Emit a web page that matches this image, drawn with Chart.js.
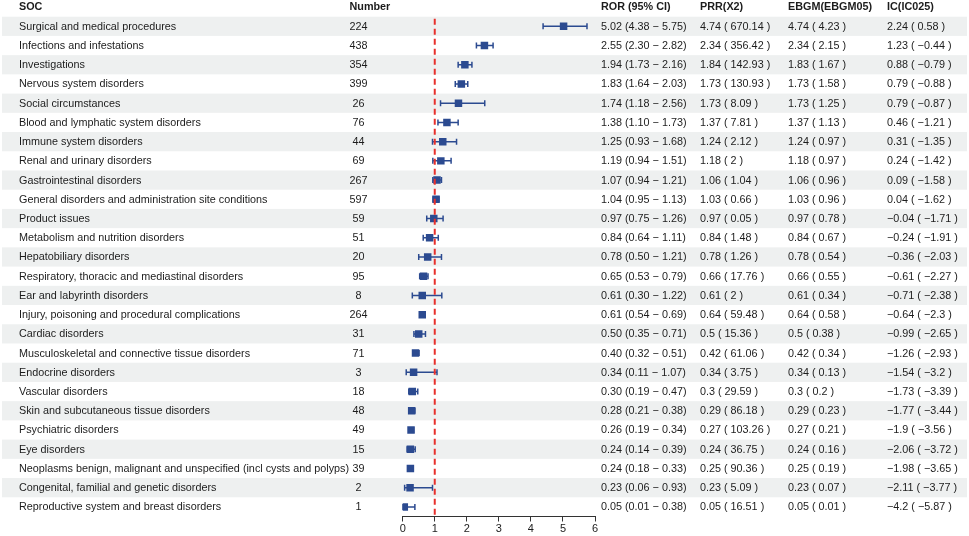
<!DOCTYPE html>
<html><head><meta charset="utf-8">
<script src="https://cdn.jsdelivr.net/npm/chart.js@4/dist/chart.umd.min.js"></script>
<style>html,body{margin:0;padding:0;background:#fff;overflow:hidden}</style>
</head><body>
<canvas id="c" width="969" height="536"></canvas>
<script>
const soc = [
  "Surgical and medical procedures","Infections and infestations","Investigations","Nervous system disorders",
  "Social circumstances","Blood and lymphatic system disorders","Immune system disorders","Renal and urinary disorders",
  "Gastrointestinal disorders","General disorders and administration site conditions","Product issues",
  "Metabolism and nutrition disorders","Hepatobiliary disorders","Respiratory, thoracic and mediastinal disorders",
  "Ear and labyrinth disorders","Injury, poisoning and procedural complications","Cardiac disorders",
  "Musculoskeletal and connective tissue disorders","Endocrine disorders","Vascular disorders",
  "Skin and subcutaneous tissue disorders","Psychiatric disorders","Eye disorders",
  "Neoplasms benign, malignant and unspecified (incl cysts and polyps)","Congenital, familial and genetic disorders",
  "Reproductive system and breast disorders"
];
const counts = [224,438,354,399,26,76,44,69,267,597,59,51,20,95,8,264,31,71,3,18,48,49,15,39,2,1];
const ror   = [5.02,2.55,1.94,1.83,1.74,1.38,1.25,1.19,1.07,1.04,0.97,0.84,0.78,0.65,0.61,0.61,0.50,0.40,0.34,0.30,0.28,0.26,0.24,0.24,0.23,0.05];
const rorLo = [4.38,2.30,1.73,1.64,1.18,1.10,0.93,0.94,0.94,0.95,0.75,0.64,0.50,0.53,0.30,0.54,0.35,0.32,0.11,0.19,0.21,0.19,0.14,0.18,0.06,0.01];
const rorHi = [5.75,2.82,2.16,2.03,2.56,1.73,1.68,1.51,1.21,1.13,1.26,1.11,1.21,0.79,1.22,0.69,0.71,0.51,1.07,0.47,0.38,0.34,0.39,0.33,0.93,0.38];
const prr   = [4.74,2.34,1.84,1.73,1.73,1.37,1.24,1.18,1.06,1.03,0.97,0.84,0.78,0.66,0.61,0.64,0.5,0.42,0.34,0.3,0.29,0.27,0.24,0.25,0.23,0.05];
const prrChi= [670.14,356.42,142.93,130.93,8.09,7.81,2.12,2,1.04,0.66,0.05,1.48,1.26,17.76,2,59.48,15.36,61.06,3.75,29.59,86.18,103.26,36.75,90.36,5.09,16.51];
const ebgm  = [4.74,2.34,1.83,1.73,1.73,1.37,1.24,1.18,1.06,1.03,0.97,0.84,0.78,0.66,0.61,0.64,0.5,0.42,0.34,0.3,0.29,0.27,0.24,0.25,0.23,0.05];
const ebgm05= [4.23,2.15,1.67,1.58,1.25,1.13,0.97,0.97,0.96,0.96,0.78,0.67,0.54,0.55,0.34,0.58,0.38,0.34,0.13,0.2,0.23,0.21,0.16,0.19,0.07,0.01];
const ic    = [2.24,1.23,0.88,0.79,0.79,0.46,0.31,0.24,0.09,0.04,-0.04,-0.24,-0.36,-0.61,-0.71,-0.64,-0.99,-1.26,-1.54,-1.73,-1.77,-1.9,-2.06,-1.98,-2.11,-4.2];
const ic025 = [0.58,-0.44,-0.79,-0.88,-0.87,-1.21,-1.35,-1.42,-1.58,-1.62,-1.71,-1.91,-2.03,-2.27,-2.38,-2.3,-2.65,-2.93,-3.2,-3.39,-3.44,-3.56,-3.72,-3.65,-3.77,-5.87];
const xTicks = [0,1,2,3,4,5,6];
const headers = ["SOC","Number","ROR (95% CI)","PRR(X2)","EBGM(EBGM05)","IC(IC025)"];
const refLine = 1;

const fmt = v => String(v).replace('-', '\u2212');
const FONT = '"Liberation Sans", Arial, sans-serif';
const TXT = '#1c1c1c';
const BLUE = '#2b4a90';

const bandPlugin = {
  id: 'bands',
  beforeDraw(chart) {
    const ctx = chart.ctx, y = chart.scales.y;
    ctx.save();
    ctx.fillStyle = '#fff';
    ctx.fillRect(0, 0, chart.width, chart.height);
    ctx.fillStyle = '#eef0f0';
    for (let i = 0; i < soc.length; i += 2) {
      const t = y.getPixelForValue(i - 0.5), b = y.getPixelForValue(i + 0.5);
      ctx.fillRect(2, Math.min(t, b), 965, Math.abs(b - t));
    }
    ctx.restore();
  }
};

const errPlugin = {
  id: 'errbars',
  beforeDatasetsDraw(chart) {
    const ctx = chart.ctx, x = chart.scales.x, y = chart.scales.y;
    ctx.save();
    ctx.strokeStyle = BLUE;
    ctx.lineWidth = 1.5;
    for (let i = 0; i < soc.length; i++) {
      const py = y.getPixelForValue(i);
      const x1 = x.getPixelForValue(rorLo[i]), x2 = x.getPixelForValue(rorHi[i]);
      ctx.beginPath();
      ctx.moveTo(x1, py); ctx.lineTo(x2, py);
      ctx.moveTo(x1, py - 3); ctx.lineTo(x1, py + 3);
      ctx.moveTo(x2, py - 3); ctx.lineTo(x2, py + 3);
      ctx.stroke();
    }
    ctx.restore();
  },
  afterDatasetsDraw(chart) {
    const ctx = chart.ctx, x = chart.scales.x, a = chart.chartArea;
    ctx.save();
    ctx.strokeStyle = '#e8302c';
    ctx.lineWidth = 2;
    ctx.setLineDash([6, 4]);
    const px = x.getPixelForValue(refLine);
    ctx.beginPath();
    ctx.moveTo(px, a.top + 2); ctx.lineTo(px, a.bottom);
    ctx.stroke();
    ctx.restore();
  }
};

const tablePlugin = {
  id: 'table',
  afterDraw(chart) {
    const ctx = chart.ctx, y = chart.scales.y;
    const cols = [19, 349.5, 601, 700, 788, 887];
    ctx.save();
    ctx.textBaseline = 'middle';
    ctx.fillStyle = TXT;
    ctx.font = 'bold 10.8px ' + FONT;
    ctx.textAlign = 'left';
    headers.forEach((h, k) => ctx.fillText(h, cols[k], 7));
    ctx.font = '10.8px ' + FONT;
    for (let i = 0; i < soc.length; i++) {
      const py = y.getPixelForValue(i) + 0.5;
      ctx.textAlign = 'left';
      ctx.fillText(soc[i], cols[0], py);
      ctx.textAlign = 'center';
      ctx.fillText(String(counts[i]), 358.5, py);
      ctx.textAlign = 'left';
      ctx.fillText(ror[i].toFixed(2) + ' (' + rorLo[i].toFixed(2) + ' \u2212 ' + rorHi[i].toFixed(2) + ')', cols[2], py);
      ctx.fillText(fmt(prr[i]) + ' ( ' + fmt(prrChi[i]) + ' )', cols[3], py);
      ctx.fillText(fmt(ebgm[i]) + ' ( ' + fmt(ebgm05[i]) + ' )', cols[4], py);
      ctx.fillText(fmt(ic[i]) + ' ( ' + fmt(ic025[i]) + ' )', cols[5], py);
    }
    ctx.restore();
  }
};

new Chart(document.getElementById('c'), {
  type: 'scatter',
  data: {
    datasets: [{
      data: ror.map((v, i) => ({ x: v, y: i })),
      pointStyle: 'rect',
      pointRadius: 5.3,
      pointHoverRadius: 5.3,
      backgroundColor: BLUE,
      borderWidth: 0
    }]
  },
  options: {
    responsive: false,
    animation: false,
    devicePixelRatio: 1,
    layout: { padding: { left: 402.7, right: 374, top: 16.7, bottom: 0 } },
    plugins: { legend: { display: false }, tooltip: { enabled: false } },
    scales: {
      x: {
        type: 'linear', min: 0, max: 6,
        afterBuildTicks: s => { s.ticks = xTicks.map(v => ({ value: v })); },
        afterFit: s => { s.height = 19.5; },
        grid: { display: true, drawOnChartArea: false, drawTicks: true, tickLength: 5, color: '#333', tickColor: '#333' },
        border: { display: true, color: '#333', width: 1 },
        ticks: { font: { family: FONT, size: 11 }, color: TXT, padding: 1, maxRotation: 0 }
      },
      y: { type: 'linear', min: -0.5, max: 25.5, reverse: true, display: false }
    }
  },
  plugins: [bandPlugin, errPlugin, tablePlugin]
});
</script>
</body></html>
